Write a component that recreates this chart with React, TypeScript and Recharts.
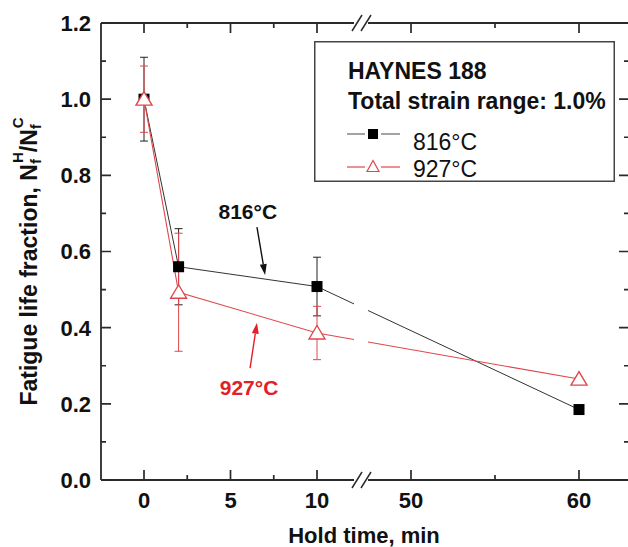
import {
  LineChart,
  Line,
  XAxis,
  YAxis,
  ErrorBar,
  ReferenceArea,
  ReferenceLine,
  ReferenceDot,
  Legend,
  Label,
} from "recharts";

// hold time (min) and fatigue life fraction Nf(H)/Nf(C)
const holdTime = [0, 2, 10, 60];
const life816 = [1.0, 0.56, 0.508, 0.185];
const err816 = [0.11, 0.1, 0.077, null];
const life927 = [1.0, 0.493, 0.386, 0.265];
const err927 = [0.087, 0.155, 0.07, null];

const seriesNames = ["816°C", "927°C"];
const legendTitle = ["HAYNES 188", "Total strain range: 1.0%"];

const xMajorTicks = [0, 5, 10, 50, 60];
const xMinorTicks = [2.5, 7.5, 55];
const yMajorTicks = [0, 0.2, 0.4, 0.6, 0.8, 1.0, 1.2];
const yMinorTicks = [0.1, 0.3, 0.5, 0.7, 0.9, 1.1];

const FONT = "Arial, 'Liberation Sans', Helvetica, sans-serif";
const FRAME = "#2a2a2a";
const BLACK = "#333";
const RED = "#e0474c";
const RED_TEXT = "#e3202a";

// broken x axis: 0..10 on one scale, 50..60 on another
// (axis units are chosen so that one unit is one pixel of the plot)
const LEFT_SCALE = 17.3;
const RIGHT_SCALE = 16.8;
const RIGHT_ORIGIN = 267;
const toAxis = (h: number) =>
  h < 30 ? h * LEFT_SCALE : RIGHT_ORIGIN + (h - 50) * RIGHT_SCALE;
const X_DOMAIN = [-43, 485];
const Y_DOMAIN = [0, 1.2];
const BREAK_AT = 219;

const data = holdTime.map((h, i) => ({
  t: toAxis(h),
  s816: life816[i],
  e816: err816[i],
  s927: life927[i],
  e927: err927[i],
}));

const xTicks = [...xMajorTicks, ...xMinorTicks].map(toAxis);
const yTicks = [...yMajorTicks, ...yMinorTicks];

const majorX = (t: number) =>
  xMajorTicks.find((h) => Math.abs(toAxis(h) - t) < 0.01);
const isMajorY = (v: number) => Math.abs(v * 5 - Math.round(v * 5)) < 1e-6;

const MAJOR = 10;
const MINOR = 5;

const BottomLabel = ({ x, y, payload }: any) => {
  const h = majorX(payload.value);
  if (h === undefined) return <g />;
  return (
    <text x={x} y={y + 28} textAnchor="middle" fontFamily={FONT} fontWeight="bold" fontSize={22} fill="#111">
      {h}
    </text>
  );
};

const LeftLabel = ({ x, y, payload }: any) => {
  if (!isMajorY(payload.value)) return <g />;
  return (
    <text x={x - 10} y={y} dy="0.36em" textAnchor="end" fontFamily={FONT} fontWeight="bold" fontSize={22} fill="#111">
      {payload.value.toFixed(1)}
    </text>
  );
};

// all inward frame ticks, drawn from the plot corners given by a diagonal segment
const FrameTicks = ({ x1, y1, x2, y2 }: any) => {
  const px = (t: number) => x1 + ((t - X_DOMAIN[0]) / (X_DOMAIN[1] - X_DOMAIN[0])) * (x2 - x1);
  const py = (v: number) => y1 + ((v - Y_DOMAIN[0]) / (Y_DOMAIN[1] - Y_DOMAIN[0])) * (y2 - y1);
  let d = "";
  xTicks.forEach((t) => {
    const len = majorX(t) !== undefined ? MAJOR : MINOR;
    const x = px(t);
    d += `M${x},${y1}V${y1 - len}M${x},${y2}V${y2 + len}`;
  });
  yTicks.forEach((v) => {
    const len = isMajorY(v) ? MAJOR : MINOR;
    const y = py(v);
    d += `M${x1},${y}H${x1 + len}M${x2},${y}H${x2 - len}`;
  });
  return <path d={d} stroke={FRAME} strokeWidth={1.7} fill="none" />;
};

const SquareDot = (p: any) => (
  <rect key={`sq-${p.index}`} x={p.cx - 5.5} y={p.cy - 5.5} width={11} height={11} fill="#000" />
);

const TriangleDot = (p: any) => (
  <polygon
    key={`tr-${p.index}`}
    points={`${p.cx},${p.cy - 7.5} ${p.cx - 8},${p.cy + 6} ${p.cx + 8},${p.cy + 6}`}
    fill="#fff"
    stroke={RED}
    strokeWidth={1.4}
  />
);

const YTitle = ({ viewBox }: any) => {
  const cx = viewBox.x + 29;
  const cy = viewBox.y + viewBox.height / 2 + 10;
  return (
    <text
      x={cx}
      y={cy}
      transform={`rotate(-90, ${cx}, ${cy})`}
      textAnchor="middle"
      dominantBaseline="central"
      fontFamily={FONT}
      fontWeight="bold"
      fontSize={23}
      fill="#111"
    >
      Fatigue life fraction, N
      <tspan dy={6} fontSize={15}>f</tspan>
      <tspan dx={-4} dy={-18} fontSize={15}>H</tspan>
      <tspan dy={12}>/N</tspan>
      <tspan dy={6} fontSize={15}>f</tspan>
      <tspan dx={-4} dy={-18} fontSize={15}>C</tspan>
    </text>
  );
};

const XTitle = ({ viewBox }: any) => (
  <text
    x={viewBox.x + viewBox.width / 2 - 1}
    y={viewBox.y + 63}
    textAnchor="middle"
    fontFamily={FONT}
    fontWeight="bold"
    fontSize={22}
    fill="#111"
  >
    Hold time, min
  </text>
);

const Arrow = ({ x1, y1, x2, y2, stroke }: any) => {
  const a = Math.atan2(y2 - y1, x2 - x1);
  const len = 11;
  const w = 3.5;
  const bx = x2 - len * Math.cos(a);
  const by = y2 - len * Math.sin(a);
  const px = -Math.sin(a) * w;
  const py = Math.cos(a) * w;
  return (
    <g>
      <line x1={x1} y1={y1} x2={bx} y2={by} stroke={stroke} strokeWidth={1.4} />
      <polygon points={`${x2},${y2} ${bx + px},${by + py} ${bx - px},${by - py}`} fill={stroke} />
    </g>
  );
};

const noteText = (label: string, color: string) => (p: any) => (
  <text x={p.cx} y={p.cy} textAnchor="middle" dominantBaseline="central" fontFamily={FONT} fontWeight="bold" fontSize={21} fill={color}>
    {label}
  </text>
);

const LegendBox = () => (
  <svg width={301} height={141} style={{ display: "block" }}>
    <rect x={0.75} y={0.75} width={299.5} height={139.5} fill="#fff" stroke="#444" strokeWidth={1.5} />
    <text x={34} y={38} fontFamily={FONT} fontWeight="bold" fontSize={23} fill="#111">
      {legendTitle[0]}
    </text>
    <text x={34} y={68} fontFamily={FONT} fontWeight="bold" fontSize={23} fill="#111">
      {legendTitle[1]}
    </text>
    <line x1={33} x2={51} y1={93} y2={93} stroke="#666" strokeWidth={1.2} />
    <line x1={67} x2={86} y1={93} y2={93} stroke="#666" strokeWidth={1.2} />
    <rect x={54} y={88} width={10} height={10} fill="#000" />
    <text x={99} y={109} fontFamily={FONT} fontSize={23} fill="#111">
      {seriesNames[0]}
    </text>
    <line x1={33} x2={51} y1={126} y2={126} stroke={RED} strokeWidth={1.2} />
    <line x1={67} x2={86} y1={126} y2={126} stroke={RED} strokeWidth={1.2} />
    <polygon points="59,119.5 53,130.5 65,130.5" fill="#fff" stroke={RED} strokeWidth={1.2} />
    <text x={99} y={136} fontFamily={FONT} fontSize={23} fill="#111">
      {seriesNames[1]}
    </text>
  </svg>
);

const slash = (dx: number, y: number) => ({
  segment: [
    { x: BREAK_AT - 11 + dx, y: y - 0.021 },
    { x: BREAK_AT - 1 + dx, y: y + 0.021 },
  ],
});

export default function App() {
  return (
    <div style={{ width: 628, height: 547, overflow: "hidden" }}>
      <style>{`body{margin:0}`}</style>
      <LineChart width={628} height={547} data={data} margin={{ top: 22, right: -1, bottom: 0, left: 0 }}>
        <XAxis
          type="number"
          dataKey="t"
          domain={X_DOMAIN}
          ticks={xTicks}
          interval={0}
          tickSize={0}
          tickMargin={0}
          tickLine={false}
          tick={(p: any) => <BottomLabel {...p} />}
          height={67}
          allowDataOverflow
          axisLine={{ stroke: FRAME, strokeWidth: 1.8 }}
        >
          <Label content={XTitle} />
        </XAxis>
        <XAxis
          xAxisId="top"
          orientation="top"
          type="number"
          dataKey="t"
          domain={X_DOMAIN}
          tick={false}
          tickLine={false}
          height={1}
          allowDataOverflow
          axisLine={{ stroke: FRAME, strokeWidth: 1.8 }}
        />
        <YAxis
          type="number"
          domain={Y_DOMAIN}
          ticks={yTicks}
          interval={0}
          tickSize={0}
          tickMargin={0}
          tickLine={false}
          tick={(p: any) => <LeftLabel {...p} />}
          width={101}
          allowDataOverflow
          axisLine={{ stroke: FRAME, strokeWidth: 1.8 }}
        >
          <Label content={YTitle} />
        </YAxis>
        {/* invisible series so the top frame axis gets a domain */}
        <Line
          xAxisId="top"
          dataKey="s816"
          stroke="none"
          dot={false}
          activeDot={false}
          legendType="none"
          isAnimationActive={false}
        />
        <Line
          dataKey="s816"
          name={seriesNames[0]}
          stroke={BLACK}
          strokeWidth={1}
          dot={SquareDot}
          activeDot={false}
          isAnimationActive={false}
        >
          <ErrorBar dataKey="e816" direction="y" width={4} stroke="#222" strokeWidth={1} isAnimationActive={false} />
        </Line>
        <Line
          dataKey="s927"
          name={seriesNames[1]}
          stroke={RED}
          strokeWidth={1.1}
          dot={TriangleDot}
          activeDot={false}
          isAnimationActive={false}
        >
          <ErrorBar dataKey="e927" direction="y" width={4} stroke={RED} strokeWidth={1} isAnimationActive={false} />
        </Line>

        {/* inward frame ticks on all four sides */}
        <ReferenceLine
          segment={[
            { x: X_DOMAIN[0], y: Y_DOMAIN[0] },
            { x: X_DOMAIN[1], y: Y_DOMAIN[1] },
          ]}
          stroke={FRAME}
          shape={(p: any) => <FrameTicks {...p} />}
          ifOverflow="visible"
          zIndex={700}
        />

        {/* axis break: white gap through frame and lines, then the // marks */}
        <ReferenceArea
          x1={BREAK_AT - 9}
          x2={BREAK_AT + 5}
          y1={-0.03}
          y2={1.23}
          fill="#fff"
          fillOpacity={1}
          stroke="none"
          ifOverflow="visible"
          zIndex={650}
        />
        {[0, 9].map((dx) =>
          [0, 1.2].map((y) => (
            <ReferenceLine
              key={`sl-${dx}-${y}`}
              {...slash(dx, y)}
              stroke={FRAME}
              strokeWidth={1.5}
              ifOverflow="visible"
              zIndex={700}
            />
          ))
        )}

        {/* annotations */}
        <ReferenceLine
          segment={[
            { x: toAxis(6.53), y: 0.664 },
            { x: toAxis(7.0), y: 0.538 },
          ]}
          stroke="#111"
          shape={(p: any) => <Arrow {...p} stroke="#111" />}
          zIndex={700}
        />
        <ReferenceDot x={toAxis(6.0)} y={0.704} r={1} shape={noteText("816°C", "#111")} zIndex={700} />
        <ReferenceLine
          segment={[
            { x: toAxis(6.13), y: 0.294 },
            { x: toAxis(6.53), y: 0.413 },
          ]}
          stroke={RED_TEXT}
          shape={(p: any) => <Arrow {...p} stroke={RED_TEXT} />}
          zIndex={700}
        />
        <ReferenceDot x={toAxis(6.07)} y={0.242} r={1} shape={noteText("927°C", RED_TEXT)} zIndex={700} />

        <Legend
          layout="horizontal"
          verticalAlign="middle"
          align="center"
          wrapperStyle={{ position: "absolute", left: 314, top: 41, width: 301, height: 141 }}
          content={() => <LegendBox />}
        />
      </LineChart>
    </div>
  );
}
